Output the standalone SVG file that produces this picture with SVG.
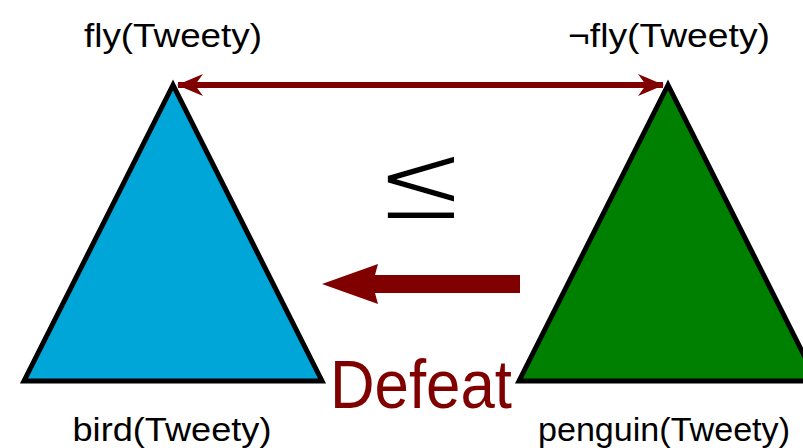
<svg xmlns="http://www.w3.org/2000/svg" width="803" height="448" viewBox="0 0 803 448">
<style>
.lbl{font-family:"Liberation Sans",Arial,sans-serif;font-size:33px;fill:#000;text-anchor:middle}
.tri{stroke:#000;stroke-width:5;stroke-linejoin:miter}
</style>
<defs>
<marker id="ah" viewBox="0 0 26 22" refX="25" refY="11" markerWidth="26" markerHeight="22" markerUnits="userSpaceOnUse" orient="auto-start-reverse">
<path d="M0,0 L26,11 L0,22 L8,11 Z" fill="#800000"/>
</marker>
</defs>
<rect width="803" height="448" fill="#fff"/>
<g id="node-bird">
<polygon class="tri" points="173,85 24,381 322,381" fill="#00a6d8"/>
</g>
<g id="node-penguin">
<polygon class="tri" points="668,85 519,381 817,381" fill="#008000"/>
</g>
<g id="connectors">
<line x1="178" y1="85" x2="663" y2="85" stroke="#800000" stroke-width="6" marker-start="url(#ah)" marker-end="url(#ah)"/>
<path d="M520,275 L375,275 L378,264 L322,284 L378,304 L375,293 L520,293 Z" fill="#800000"/>
</g>
<g id="labels">
<text class="lbl" x="173" y="47" textLength="178" lengthAdjust="spacingAndGlyphs">fly(Tweety)</text>
<text class="lbl" x="669" y="47" textLength="202" lengthAdjust="spacingAndGlyphs">¬fly(Tweety)</text>
<text class="lbl" x="172" y="441" textLength="199" lengthAdjust="spacingAndGlyphs">bird(Tweety)</text>
<text class="lbl" x="664" y="441" textLength="252" lengthAdjust="spacingAndGlyphs">penguin(Tweety)</text>
<text x="421" y="408" font-family="Liberation Sans,Arial,sans-serif" font-size="68" fill="#800000" text-anchor="middle" textLength="182" lengthAdjust="spacingAndGlyphs">Defeat</text>
<text x="0" y="0" transform="translate(421,220) scale(1.12,1.13)" font-family="DejaVu Sans,sans-serif" font-size="100" fill="#000" stroke="#fff" stroke-width="3.5" text-anchor="middle">≤</text>
</g>
</svg>
